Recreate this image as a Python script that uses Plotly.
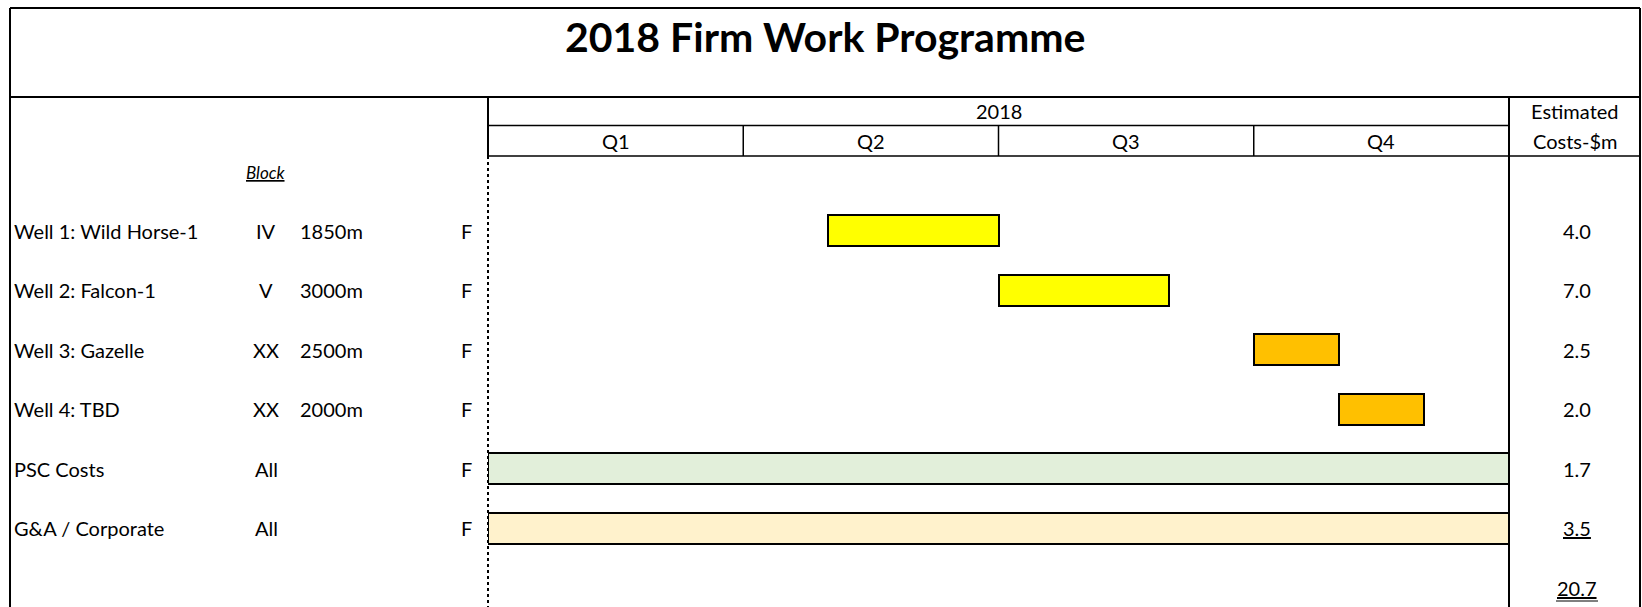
import plotly.graph_objects as go

W, H = 1642, 607

# ---------------- data ----------------
title = "2018 Firm Work Programme"
year_label = "2018"
quarters = ["Q1", "Q2", "Q3", "Q4"]
cost_header = ["Estimated", "Costs-$m"]
block_header = "Block"

activities = ["Well 1: Wild Horse-1", "Well 2: Falcon-1", "Well 3: Gazelle",
              "Well 4: TBD", "PSC Costs", "G&A / Corporate"]
blocks = ["IV", "V", "XX", "XX", "All", "All"]
depths = ["1850m", "3000m", "2500m", "2000m", "", ""]
status = ["F", "F", "F", "F", "F", "F"]
start_month = [4, 6, 9, 10, 0, 0]
end_month = [6, 8, 10, 11, 12, 12]
bar_colors = ["#FFFF00", "#FFFF00", "#FFC000", "#FFC000", "#E2EFDA", "#FFF2CC"]
costs = [4.0, 7.0, 2.5, 2.0, 1.7, 3.5]
total_cost = 20.7

# ---------------- layout helpers ----------------
FONT = "Lato"
def px(p):  # pixel x -> paper
    return p / W
def py(p):  # pixel y -> paper
    return 1 - p / H

X0, X1 = 488, 1509          # timeline pixel extent
ROW0, ROW_STEP = 230.5, 59.5  # pixel centre of first row, row spacing
y_top = -ROW0 / ROW_STEP
y_bot = (H - ROW0) / ROW_STEP

rows = list(range(len(activities)))
durations = [e - s for s, e in zip(start_month, end_month)]

fig = go.Figure()
fig.add_trace(go.Bar(
    y=rows, x=durations, base=start_month, orientation="h",
    width=31 / ROW_STEP,
    marker=dict(color=bar_colors, line=dict(color="black", width=2)),
    hoverinfo="skip", showlegend=False,
))

annotations = []
def txt(text, x, y, xref="paper", yref="paper", size=20, xanchor="center", **kw):
    annotations.append(dict(text=text, x=x, y=y, xref=xref, yref=yref,
                            showarrow=False, xanchor=xanchor, yanchor="middle",
                            font=dict(family=FONT, size=size, color="black"), **kw))

# title
txt("<b>" + title + "</b>", px(826), py(37), size=41)
# header
txt(year_label, (X0 + X1) / 2 / W, py(110.5))
for i, q in enumerate(quarters):
    txt(q, i * 3 + 1.5, py(140.5), xref="x")
txt(cost_header[0], px(1575), py(110.5))
txt(cost_header[1], px(1575), py(141))
txt("<i><u>" + block_header + "</u></i>", px(265), py(172), size=17)

# rows
for r in rows:
    txt(activities[r], px(12), r, yref="y", xanchor="left")
    txt(blocks[r], px(266), r, yref="y")
    if depths[r]:
        txt(depths[r], px(298), r, yref="y", xanchor="left")
    txt(status[r], px(466.5), r, yref="y")
    c = f"{costs[r]:.1f}"
    if r == len(rows) - 1:
        c = "<u>" + c + "</u>"
    txt(c, px(1577), r, yref="y")
txt("<u>" + f"{total_cost:.1f}" + "</u>", px(1577), len(rows), yref="y")

# ---------------- table lines ----------------
shapes = []
def line(x0, y0, x1, y1, w=2, dash="solid", xref="paper", yref="paper"):
    shapes.append(dict(type="line", x0=x0, y0=y0, x1=x1, y1=y1, xref=xref, yref=yref,
                       line=dict(color="black", width=w, dash=dash), layer="above"))

# outer border
line(px(10), py(8), px(1640), py(8))
line(px(10), py(8), px(10), py(H + 5))
line(px(1640), py(8), px(1640), py(H + 5))
# title band bottom
line(px(10), py(97), px(1640), py(97))
# header
line(px(X0), py(97), px(X0), py(156))
line(px(X0), py(125.5), px(X1), py(125.5), w=1.5)
line(px(X0), py(156), px(1640), py(156), w=1.5)
for q in range(1, 4):
    line(q * 3, py(125.5), q * 3, py(156), w=1.5, xref="x")
line(px(X1), py(97), px(X1), py(H + 5))
# dashed left edge of timeline
line(px(X0), py(156), px(X0), py(H + 5), w=2, dash="dot")
# double underline of total (second line)
line(px(1556), py(601), px(1598), py(601), w=1)

fig.update_layout(
    width=W, height=H,
    margin=dict(l=0, r=0, t=0, b=0),
    paper_bgcolor="white", plot_bgcolor="rgba(0,0,0,0)",
    xaxis=dict(domain=[px(X0), px(X1)], range=[0, 12], visible=False, fixedrange=True),
    yaxis=dict(domain=[0, 1], range=[y_bot, y_top], visible=False, fixedrange=True),
    annotations=annotations, shapes=shapes,
    bargap=0, showlegend=False,
)

fig.write_html("out.html", config={"displayModeBar": False},
               post_script="document.body.style.margin='0';document.body.style.overflow='hidden';")
